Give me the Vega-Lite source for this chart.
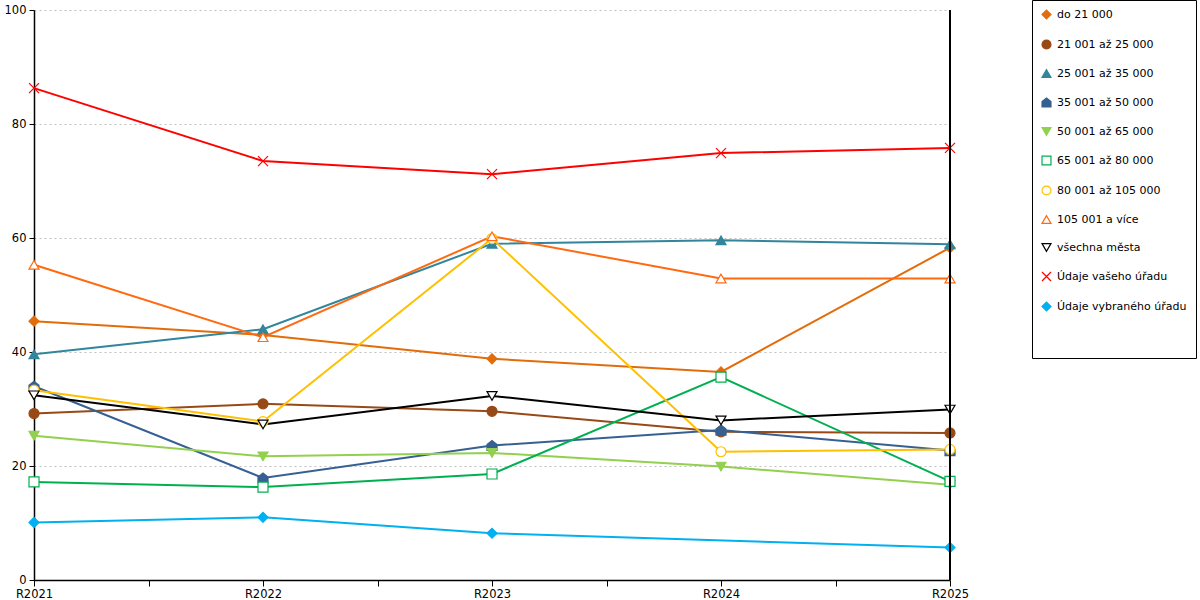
{
  "$schema": "https://vega.github.io/schema/vega-lite/v6.json",
  "background": "white",
  "autosize": {"type": "none"},
  "width": 916,
  "height": 570,
  "padding": {"left": 34, "top": 10, "right": 250, "bottom": 20},
  "data": {
    "values": [
      {"rok": 2021, "serie": "do 21 000", "hodnota": 45.4},
      {"rok": 2022, "serie": "do 21 000", "hodnota": 43.0},
      {"rok": 2023, "serie": "do 21 000", "hodnota": 38.8},
      {"rok": 2024, "serie": "do 21 000", "hodnota": 36.5},
      {"rok": 2025, "serie": "do 21 000", "hodnota": 58.3},
      {"rok": 2021, "serie": "21 001 až 25 000", "hodnota": 29.2},
      {"rok": 2022, "serie": "21 001 až 25 000", "hodnota": 30.9},
      {"rok": 2023, "serie": "21 001 až 25 000", "hodnota": 29.6},
      {"rok": 2024, "serie": "21 001 až 25 000", "hodnota": 26.0},
      {"rok": 2025, "serie": "21 001 až 25 000", "hodnota": 25.8},
      {"rok": 2021, "serie": "25 001 až 35 000", "hodnota": 39.6},
      {"rok": 2022, "serie": "25 001 až 35 000", "hodnota": 44.0},
      {"rok": 2023, "serie": "25 001 až 35 000", "hodnota": 59.0},
      {"rok": 2024, "serie": "25 001 až 35 000", "hodnota": 59.6},
      {"rok": 2025, "serie": "25 001 až 35 000", "hodnota": 58.9},
      {"rok": 2021, "serie": "35 001 až 50 000", "hodnota": 34.0},
      {"rok": 2022, "serie": "35 001 až 50 000", "hodnota": 17.9},
      {"rok": 2023, "serie": "35 001 až 50 000", "hodnota": 23.6},
      {"rok": 2024, "serie": "35 001 až 50 000", "hodnota": 26.3},
      {"rok": 2025, "serie": "35 001 až 50 000", "hodnota": 22.7},
      {"rok": 2021, "serie": "50 001 až 65 000", "hodnota": 25.3},
      {"rok": 2022, "serie": "50 001 až 65 000", "hodnota": 21.7},
      {"rok": 2023, "serie": "50 001 až 65 000", "hodnota": 22.3},
      {"rok": 2024, "serie": "50 001 až 65 000", "hodnota": 19.9},
      {"rok": 2025, "serie": "50 001 až 65 000", "hodnota": 16.7},
      {"rok": 2021, "serie": "65 001 až 80 000", "hodnota": 17.2},
      {"rok": 2022, "serie": "65 001 až 80 000", "hodnota": 16.3},
      {"rok": 2023, "serie": "65 001 až 80 000", "hodnota": 18.6},
      {"rok": 2024, "serie": "65 001 až 80 000", "hodnota": 35.6},
      {"rok": 2025, "serie": "65 001 až 80 000", "hodnota": 17.3},
      {"rok": 2021, "serie": "80 001 až 105 000", "hodnota": 33.3},
      {"rok": 2022, "serie": "80 001 až 105 000", "hodnota": 27.8},
      {"rok": 2023, "serie": "80 001 až 105 000", "hodnota": 59.9},
      {"rok": 2024, "serie": "80 001 až 105 000", "hodnota": 22.5},
      {"rok": 2025, "serie": "80 001 až 105 000", "hodnota": 22.9},
      {"rok": 2021, "serie": "105 001 a více", "hodnota": 55.3},
      {"rok": 2022, "serie": "105 001 a více", "hodnota": 42.6},
      {"rok": 2023, "serie": "105 001 a více", "hodnota": 60.3},
      {"rok": 2024, "serie": "105 001 a více", "hodnota": 52.9},
      {"rok": 2025, "serie": "105 001 a více", "hodnota": 52.9},
      {"rok": 2021, "serie": "všechna města", "hodnota": 32.4},
      {"rok": 2022, "serie": "všechna města", "hodnota": 27.3},
      {"rok": 2023, "serie": "všechna města", "hodnota": 32.3},
      {"rok": 2024, "serie": "všechna města", "hodnota": 28.0},
      {"rok": 2025, "serie": "všechna města", "hodnota": 29.9},
      {"rok": 2021, "serie": "Údaje vašeho úřadu", "hodnota": 86.3},
      {"rok": 2022, "serie": "Údaje vašeho úřadu", "hodnota": 73.5},
      {"rok": 2023, "serie": "Údaje vašeho úřadu", "hodnota": 71.2},
      {"rok": 2024, "serie": "Údaje vašeho úřadu", "hodnota": 74.9},
      {"rok": 2025, "serie": "Údaje vašeho úřadu", "hodnota": 75.8},
      {"rok": 2021, "serie": "Údaje vybraného úřadu", "hodnota": 10.1},
      {"rok": 2022, "serie": "Údaje vybraného úřadu", "hodnota": 11.0},
      {"rok": 2023, "serie": "Údaje vybraného úřadu", "hodnota": 8.2},
      {"rok": 2025, "serie": "Údaje vybraného úřadu", "hodnota": 5.7}
    ]
  },
  "encoding": {
    "x": {
      "field": "rok",
      "type": "quantitative",
      "title": null,
      "scale": {"domain": [2021, 2025], "nice": false, "zero": false},
      "axis": {
        "values": [2021, 2021.5, 2022, 2022.5, 2023, 2023.5, 2024, 2024.5, 2025],
        "labelExpr": "datum.value % 1 == 0 ? 'R' + datum.value : ''",
        "grid": false,
        "domainColor": "black",
        "domainWidth": 1.5,
        "tickColor": "black",
        "tickSize": 6,
        "labelPadding": 2,
        "labelFlush": false
      }
    },
    "y": {
      "field": "hodnota",
      "type": "quantitative",
      "title": null,
      "scale": {"domain": [0, 100], "nice": false},
      "axis": {
        "values": [0, 20, 40, 60, 80, 100],
        "grid": true,
        "gridDash": [2, 3],
        "gridColor": "#c0c0c0",
        "domainColor": "black",
        "domainWidth": 1.5,
        "tickColor": "black",
        "tickSize": 5,
        "labelPadding": 3
      }
    },
    "stroke": {
      "field": "serie",
      "type": "nominal",
      "title": " ",
      "scale": {
        "domain": ["do 21 000", "21 001 až 25 000", "25 001 až 35 000", "35 001 až 50 000", "50 001 až 65 000", "65 001 až 80 000", "80 001 až 105 000", "105 001 a více", "všechna města", "Údaje vašeho úřadu", "Údaje vybraného úřadu"],
        "range": ["#E36C0A", "#974A16", "#31859C", "#376092", "#92D050", "#00B050", "#FFC000", "#FF6A10", "#000000", "#FF0000", "#00B0F0"]
      }
    }
  },
  "layer": [
    {
      "mark": {"type": "line", "strokeWidth": 2}
    },
    {
      "mark": {"type": "point", "size": 100, "strokeWidth": 1.2, "opacity": 1},
      "encoding": {
        "fill": {
          "field": "serie",
          "type": "nominal",
          "title": " ",
          "scale": {
            "domain": ["do 21 000", "21 001 až 25 000", "25 001 až 35 000", "35 001 až 50 000", "50 001 až 65 000", "65 001 až 80 000", "80 001 až 105 000", "105 001 a více", "všechna města", "Údaje vašeho úřadu", "Údaje vybraného úřadu"],
            "range": ["#E36C0A", "#974A16", "#31859C", "#376092", "#92D050", "white", "white", "white", "white", "transparent", "#00B0F0"]
          }
        },
        "shape": {
          "field": "serie",
          "type": "nominal",
          "title": " ",
          "scale": {
            "domain": ["do 21 000", "21 001 až 25 000", "25 001 až 35 000", "35 001 až 50 000", "50 001 až 65 000", "65 001 až 80 000", "80 001 až 105 000", "105 001 a více", "všechna města", "Údaje vašeho úřadu", "Údaje vybraného úřadu"],
            "range": ["diamond", "circle", "triangle-up", "M-1,1L-1,-0.2L0,-1L1,-0.2L1,1Z", "triangle-down", "square", "circle", "triangle-up", "triangle-down", "M-1,-1L1,1M-1,1L1,-1", "diamond"]
          }
        }
      }
    },
    {
      "mark": {"type": "rule", "color": "black", "strokeWidth": 1.5},
      "encoding": {
        "x": {"datum": 2025},
        "y": {"datum": 0},
        "y2": {"datum": 100},
        "stroke": {"value": "black"}
      }
    }
  ],
  "config": {
    "view": {"stroke": null},
    "font": "DejaVu Sans",
    "axis": {"labelFont": "DejaVu Sans", "labelFontSize": 11.5, "labelColor": "black"},
    "legend": {
      "orient": "none",
      "legendX": 998,
      "legendY": -10,
      "direction": "vertical",
      "padding": 9,
      "strokeColor": "black",
      "fillColor": "white",
      "labelFont": "DejaVu Sans",
      "labelFontSize": 11,
      "labelColor": "black",
      "labelLimit": 200,
      "symbolSize": 80,
      "symbolStrokeWidth": 1.2,
      "symbolType": "circle",
      "rowPadding": 15,
      "labelOffset": 5,
      "titleOrient": "bottom",
      "titleFontSize": 12,
      "titlePadding": 25
    }
  }
}
